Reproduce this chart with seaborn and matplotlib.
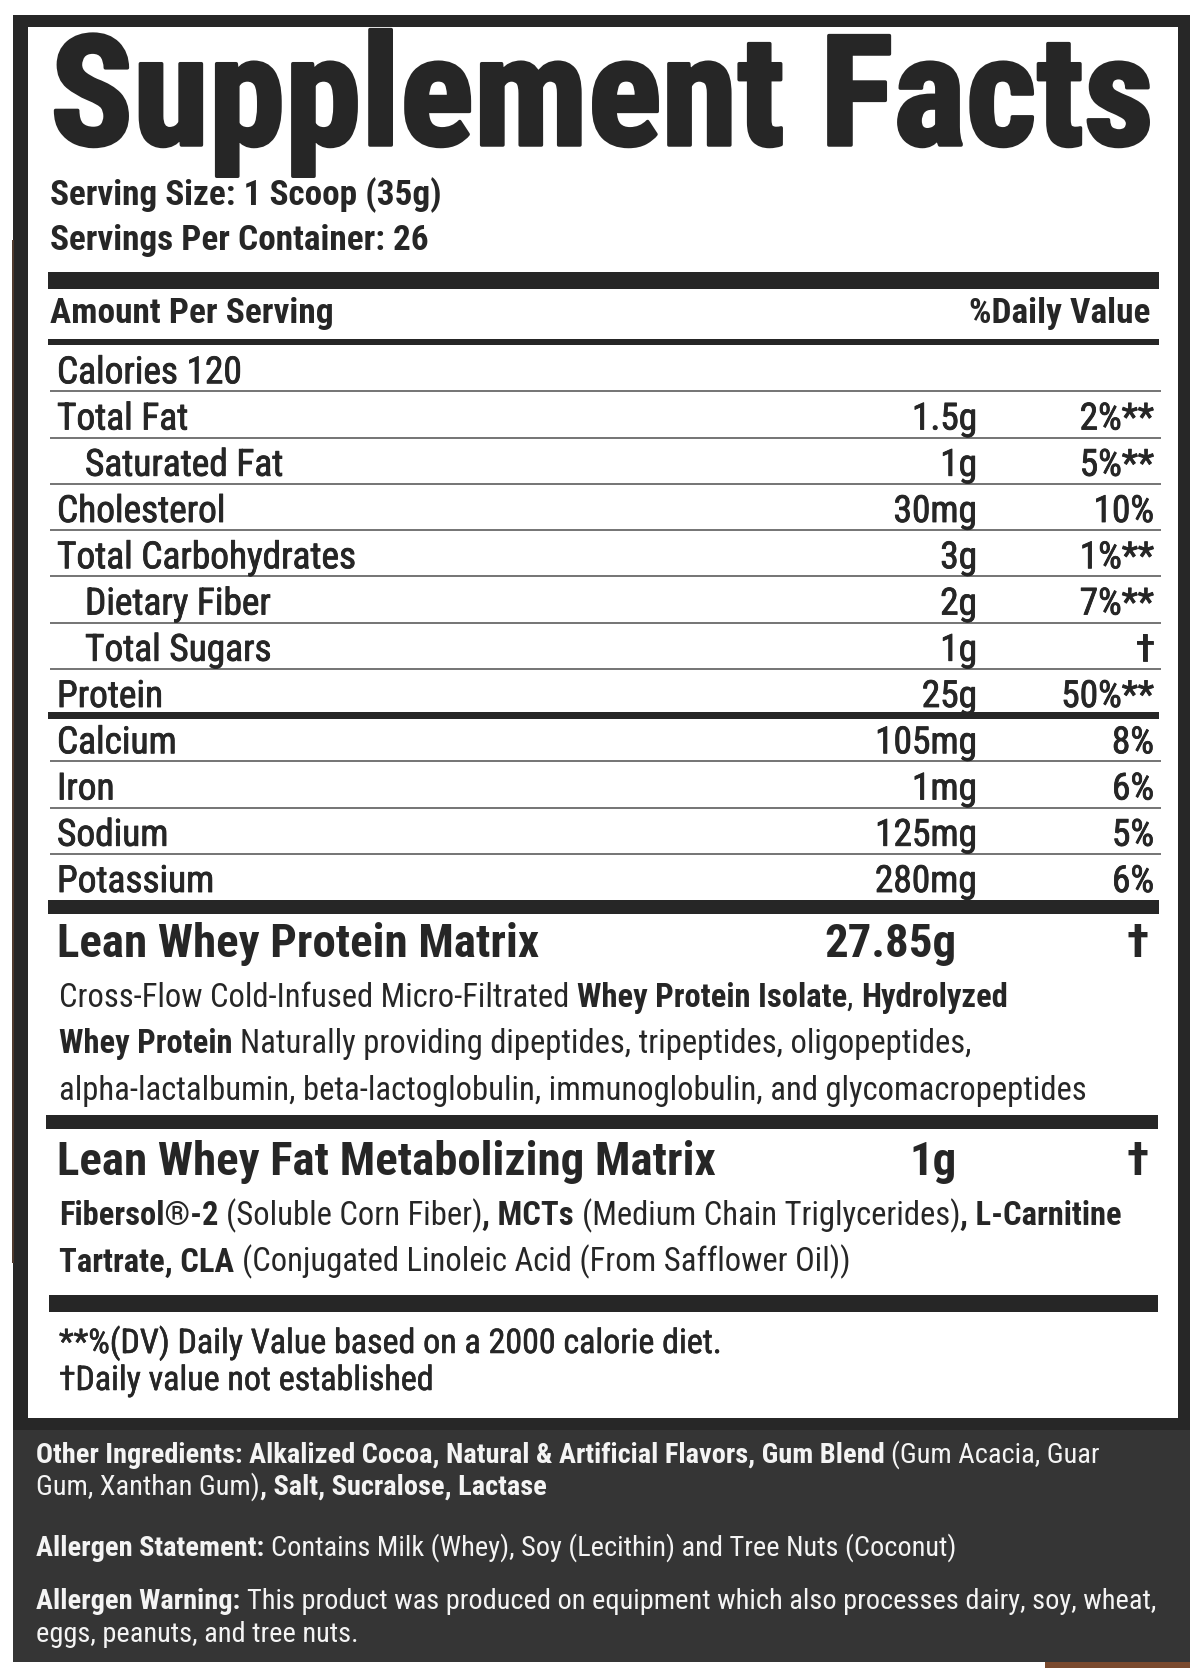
import matplotlib
matplotlib.use("Agg")
import matplotlib.pyplot as plt
import matplotlib.patheffects as pe
from matplotlib import font_manager as fm
from matplotlib.patches import Rectangle
import seaborn as sns

# ---- label content ----
title = "Supplement Facts"
serving_lines = ["Serving Size: 1 Scoop (35g)", "Servings Per Container: 26"]
header_left = "Amount Per Serving"
header_right = "%Daily Value"

nutrients = ["Calories 120", "Total Fat", "Saturated Fat", "Cholesterol",
             "Total Carbohydrates", "Dietary Fiber", "Total Sugars", "Protein",
             "Calcium", "Iron", "Sodium", "Potassium"]
amounts = ["", "1.5g", "1g", "30mg", "3g", "2g", "1g", "25g",
           "105mg", "1mg", "125mg", "280mg"]
daily_values = ["", "2%**", "5%**", "10%", "1%**", "7%**", "\u2020", "50%**",
                "8%", "6%", "5%", "6%"]
indented = [False, False, True, False, False, True, True, False,
            False, False, False, False]

blend_names = ["Lean Whey Protein Matrix", "Lean Whey Fat Metabolizing Matrix"]
blend_amounts = ["27.85g", "1g"]
blend_dv = ["\u2020", "\u2020"]
# (text, bold) runs, one list per printed line
blend_text = [
    [[("Cross-Flow Cold-Infused Micro-Filtrated ", False), ("Whey Protein Isolate", True),
      (", ", False), ("Hydrolyzed", True)],
     [("Whey Protein", True), (" Naturally providing dipeptides, tripeptides, oligopeptides,", False)],
     [("alpha-lactalbumin, beta-lactoglobulin, immunoglobulin, and glycomacropeptides", False)]],
    [[("Fibersol\u00ae-2", True), (" (Soluble Corn Fiber)", False), (", MCTs", True),
      (" (Medium Chain Triglycerides)", False), (", L-Carnitine", True)],
     [("Tartrate, CLA", True), (" (Conjugated Linoleic Acid (From Safflower Oil))", False)]],
]
footnotes = ["**%(DV) Daily Value based on a 2000 calorie diet.",
             "\u2020Daily value not established"]
panel_lines = [
    [("Other Ingredients: Alkalized Cocoa, Natural & Artificial Flavors, Gum Blend", True),
     (" (Gum Acacia, Guar", False)],
    [("Gum, Xanthan Gum)", False), (", Salt, Sucralose, Lactase", True)],
    [("Allergen Statement:", True),
     (" Contains Milk (Whey), Soy (Lecithin) and Tree Nuts (Coconut)", False)],
    [("Allergen Warning:", True),
     (" This product was produced on equipment which also processes dairy, soy, wheat,", False)],
    [("eggs, peanuts, and tree nuts.", False)],
]

# ---- styling ----
INK = "#262626"
FRAME = "#272727"
PANEL = "#353535"
sns.set_theme(style="white")

# pick a condensed face, the label uses Helvetica Condensed
narrow = set()
for f in fm.fontManager.ttflist:
    st = f.stretch
    is_narrow = (st in ("condensed", "semi-condensed", "extra-condensed", "ultra-condensed")
                 if isinstance(st, str) else st < 500)
    low = f.name.lower()
    if is_narrow or "narrow" in low or "condensed" in low:
        narrow.add(f.name)
FAM, STRETCH = "Liberation Sans", "normal"
for cand in ["Liberation Sans Narrow", "Roboto Condensed", "Open Sans Condensed",
             "Noto Sans", "DejaVu Sans", "Noto Sans Condensed"]:
    if cand in narrow:
        FAM, STRETCH = cand, "condensed"
        break
plt.rcParams["font.family"] = [FAM, "DejaVu Sans"]

fig = plt.figure(figsize=(12, 16.75), dpi=100)
ax = fig.add_axes([0, 0, 1, 1])
ax.set_xlim(0, 1200)
ax.set_ylim(1675, 0)
ax.set_axis_off()
renderer = fig.canvas.get_renderer()


def fprop(size, bold=False):
    return fm.FontProperties(family=[FAM, "DejaVu Sans"], stretch=STRETCH,
                             weight="bold" if bold else "normal", size=size)


def text_w(s, prop):
    return renderer.get_text_width_height_descent(s, prop, ismath=False)[0]


def adv(s, prop):
    # advance width, bars keep the spaces inside the measured box
    return text_w("|" + s + "|", prop) - text_w("||", prop)


def space_w(prop):
    return text_w("a a", prop) - text_w("aa", prop)


def runs_width(runs, size):
    w = 0
    for t, b in runs:
        p = fprop(size, b)
        n_sp = len(t) - len(t.strip(" "))
        w += adv(t.strip(" "), p) + n_sp * space_w(p)
    return w


def fit(runs, target, base=20.0):
    return base * target / runs_width(runs, base)


def heavy(color, w):
    return [pe.withStroke(linewidth=w, foreground=color)] if w else None


def draw_runs(x, y, runs, size, color=INK, thick=0):
    for t, b in runs:
        p = fprop(size, b)
        lead = len(t) - len(t.lstrip(" "))
        trail = len(t) - len(t.rstrip(" "))
        core = t.strip(" ")
        x += lead * space_w(p)
        ax.text(x, y, core, fontproperties=p, color=color, ha="left", va="baseline",
                path_effects=heavy(color, thick))
        x += adv(core, p) + trail * space_w(p)


def bar(top, height, x0=48, x1=1159, color=INK):
    ax.add_patch(Rectangle((x0, top), x1 - x0, height, color=color, lw=0))


# ---- frame, white box and dark panel ----
ax.add_patch(Rectangle((13, 15), 1177, 1647, color=FRAME, lw=0))
ax.add_patch(Rectangle((13, 1430), 1177, 232, color=PANEL, lw=0))
ax.add_patch(Rectangle((28, 27), 1150, 1391, color="white", lw=0))
ax.add_patch(Rectangle((12, 240), 2, 1023, color="#4e3a2e", lw=0))
ax.add_patch(Rectangle((1045, 1662), 145, 6, color="#7a4a2e", lw=0))

# ---- title and serving info ----
t_size = fit([(title, True)], 1101)
ax.text(50, 145, title, fontproperties=fprop(t_size, True), color=INK, va="baseline",
        path_effects=heavy(INK, 2.5))

h_size = fit([(serving_lines[1], True)], 378)
for line, y in zip(serving_lines, [205, 250]):
    draw_runs(50, y, [(line, True)], h_size)

bar(272, 17)
a_size = fit([(header_left, True)], 283)
draw_runs(50, 323, [(header_left, True)], a_size)
ax.text(1150, 323, header_right, fontproperties=fprop(a_size, True), color=INK,
        ha="right", va="baseline")
bar(339, 6)

# ---- nutrient rows ----
r_size = fit([("Total Carbohydrates", False)], 298)
row_top, row_h = 345, 46.25
for i, (name, amt, dv, ind) in enumerate(zip(nutrients, amounts, daily_values, indented)):
    bottom = row_top + (i + 1) * row_h
    base = bottom - 8
    p = fprop(r_size)
    for x, s, ha in [(85 if ind else 57, name, "left"), (977, amt, "right"), (1154, dv, "right")]:
        ax.text(x, base, s, fontproperties=p, color=INK, ha=ha, va="baseline",
                path_effects=heavy(INK, 0.6))
    if name == "Protein":
        bar(bottom - 3, 7)
    elif i < len(nutrients) - 1:
        ax.hlines(bottom, 50, 1161, color="#5c5c5c", lw=1.2)
bar(900, 14)

# ---- proprietary blends ----
b_size = fit([(blend_names[1], True)], 658)
p_size = fit(blend_text[0][2], 1025)
blend_base = [957, 1175]
for k, (name, amt, dv) in enumerate(zip(blend_names, blend_amounts, blend_dv)):
    y = blend_base[k]
    bp = fprop(b_size, True)
    ax.text(57, y, name, fontproperties=bp, color=INK, va="baseline")
    ax.text(957, y, amt, fontproperties=bp, color=INK, ha="right", va="baseline")
    ax.text(1138, y, dv, fontproperties=bp, color=INK, ha="center", va="baseline")
    for j, runs in enumerate(blend_text[k]):
        draw_runs(59, y + 50 + j * 46.5, runs, p_size)
bar(1115, 14, x0=46, x1=1158)
bar(1295, 17, x0=49, x1=1158)

# ---- footnotes ----
f_size = fit([(footnotes[0], False)], 662)
for line, y in zip(footnotes, [1353, 1390]):
    draw_runs(59, y, [(line, False)], f_size, thick=0.4)

# ---- other ingredients panel ----
o_size = fit(panel_lines[3], 1116)
for runs, y in zip(panel_lines, [1463, 1495, 1556, 1609, 1642]):
    draw_runs(36, y, runs, o_size, color="#f4f4f4")

fig.savefig("out.png", dpi=100, facecolor="white")
